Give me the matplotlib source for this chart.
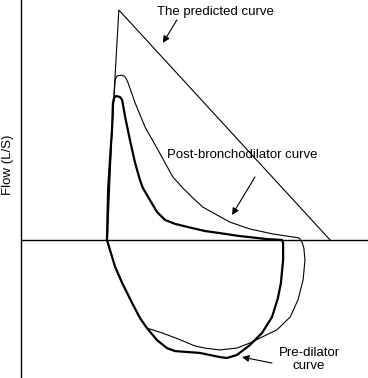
import matplotlib
matplotlib.use("Agg")
import matplotlib.pyplot as plt

plt.rcParams['font.family'] = ['Liberation Sans', 'DejaVu Sans']

# Volume (L) and flow (L/s) of each loop
predicted_vol = [0.01, 0.14, 0.32, 6.03]
predicted_flow = [0.0, 4.91, 10.0, 0.0]

pre_vol = [0, 0.03, 0.08, 0.14, 0.16, 0.19, 0.24, 0.35, 0.41, 0.49, 0.62, 0.76, 0.89, 0.97,
           1.16, 1.35, 1.57, 1.84, 2.30, 2.65, 3.05, 3.59, 4.05, 4.32, 4.73, 4.76, 4.76, 4.70,
           4.62, 4.46, 4.19, 3.86, 3.51, 3.24, 3.05, 2.51, 1.84, 1.62, 1.35, 1.08, 0.89, 0.68,
           0.41, 0.22, 0.08, 0]
pre_flow = [0, 2.17, 3.48, 4.91, 5.96, 6.17, 6.26, 6.22, 6.09, 5.35, 4.35, 3.35, 2.61, 2.26,
            1.74, 1.22, 0.87, 0.70, 0.52, 0.39, 0.30, 0.17, 0.09, 0.04, 0, -0.13, -0.87, -1.87,
            -2.52, -3.35, -4.04, -4.57, -5.0, -5.13, -5.09, -4.91, -4.83, -4.70, -4.35, -3.83,
            -3.39, -2.74, -1.87, -1.17, -0.43, 0]

post_vol = [0, 0.03, 0.14, 0.19, 0.22, 0.27, 0.38, 0.46, 0.51, 0.57, 0.76, 1.03, 1.38, 1.78,
            2.05, 2.32, 2.59, 2.97, 3.32, 3.86, 4.49, 5.03, 5.19, 5.27, 5.32, 5.35, 5.30, 5.16,
            4.95, 4.59, 4.19, 3.86, 3.51, 3.05, 2.65, 2.38, 1.92, 1.49, 1.08, 0.89, 0.68, 0.41,
            0.22, 0.08, 0]
post_flow = [0, 2.17, 4.91, 6.22, 6.96, 7.13, 7.17, 7.13, 7.04, 6.83, 5.96, 4.91, 3.91, 2.74,
             2.26, 1.83, 1.43, 1.09, 0.78, 0.48, 0.26, 0.13, 0.09, -0.09, -0.35, -0.87, -1.74,
             -2.61, -3.35, -3.91, -4.22, -4.48, -4.70, -4.78, -4.70, -4.61, -4.30, -4.04, -3.83,
             -3.39, -2.74, -1.87, -1.17, -0.43, 0]

labels = ["The predicted curve", "Post-bronchodilator curve", "Pre-dilator\ncurve"]
label_xy = [(2.92, 9.91), (3.65, 3.70), (5.46, -5.2)]
arrow_from = [(1.89, 9.57), (4.00, 2.74), (4.46, -5.35)]
arrow_to = [(1.51, 8.57), (3.38, 1.09), (3.65, -5.09)]

fig = plt.figure(figsize=(3.68, 3.78), dpi=100)
ax = fig.add_axes([21 / 368, 0, 347 / 368, 1])
ax.set_xlim(-2.324, 7.054)
ax.set_ylim(-6.0, 10.435)
for s in ['top', 'right', 'bottom']:
    ax.spines[s].set_visible(False)
ax.spines['left'].set_linewidth(1.0)
ax.set_xticks([])
ax.set_yticks([])
ax.axhline(0, color='black', lw=1.0)

ax.plot(predicted_vol, predicted_flow, color='black', lw=0.8)
ax.plot(post_vol, post_flow, color='black', lw=0.8)
ax.plot(pre_vol, pre_flow, color='black', lw=1.6, solid_joinstyle='round')

for t, xy in zip(labels, label_xy):
    ax.text(xy[0], xy[1], t, ha='center', va='center', fontsize=9.5, linespacing=1.15)
for a, b in zip(arrow_from, arrow_to):
    ax.annotate('', xy=b, xytext=a,
                arrowprops=dict(arrowstyle='-|>', color='black', lw=0.8, mutation_scale=10,
                                shrinkA=0, shrinkB=0))

fig.text(8 / 368, 1 - 165 / 378, 'Flow (L/S)', rotation=90, ha='center', va='center',
         fontsize=9.5)

fig.savefig('out.png', dpi=100)
